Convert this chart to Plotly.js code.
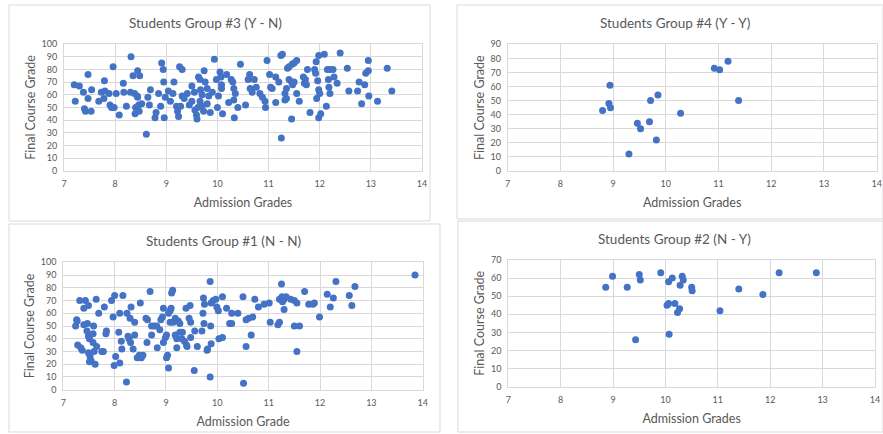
<!DOCTYPE html>
<html>
<head>
<meta charset="utf-8">
<script src="https://cdn.plot.ly/plotly-3.0.1.min.js"></script>
<style>html,body{margin:0;padding:0;background:#fff;}#chart{width:883px;height:434px;}</style>
</head>
<body>
<div id="chart"></div>
<script>
// Group #3 (Y - N)
const g3X = [7.2,7.3,7.22,7.47,7.38,7.47,7.4,7.42,7.54,7.53,7.68,7.73,7.79,7.78,7.8,7.88,7.9,7.93,7.98,7.96,8.02,8.08,8.16,8.17,8.22,8.3,8.31,8.35,8.38,8.43,8.44,8.48,8.4,8.46,8.39,8.47,8.44,8.52,8.61,8.64,8.69,8.67,8.78,8.8,8.85,8.89,8.91,8.94,8.95,8.96,8.98,9.04,9.15,9.13,9.2,9.22,9.24,9.26,9.31,9.28,9.31,9.41,9.5,9.5,9.56,9.59,9.6,9.63,9.66,9.67,9.7,9.7,9.74,9.76,9.8,9.8,9.83,9.86,9.94,9.98,10.0,10.02,9.08,9.35,9.45,9.66,9.73,9.9,9.55,9.62,10.05,10.07,10.08,10.08,10.1,10.18,10.22,10.27,10.3,10.32,10.35,10.32,10.33,10.4,10.45,10.55,10.6,10.63,10.64,10.68,10.72,10.76,10.83,10.88,10.93,10.94,10.97,11.02,11.04,11.07,11.14,11.14,11.2,11.24,11.27,11.25,11.32,11.35,11.32,11.35,11.37,11.4,11.46,11.5,11.55,11.4,11.45,11.47,11.5,11.45,11.55,11.6,11.68,11.72,11.7,11.74,11.76,11.81,11.9,11.92,11.93,11.96,11.98,12.09,11.98,12.0,11.94,11.98,12.02,12.13,12.15,12.2,12.26,12.17,12.18,12.2,12.28,12.34,12.4,12.54,12.57,12.74,12.77,12.82,12.88,12.9,12.95,12.95,12.96,13.13,13.32,13.41];
const g3Y = [68,67,55,76,62,57,49,47,64,47,55,62,71,57,63,61,52,50,50,82,61,44,69,62,51,62,90,75,61,59,79,75,50,52,45,47,58,53,29,58,64,52,42,46,61,51,85,80,70,42,58,63,70,61,51,47,43,82,80,51,59,61,67,55,48,44,41,74,72,64,60,51,79,70,65,53,59,46,88,72,50,59,55,57,52,55,47,62,62,50,78,74,68,65,45,76,54,72,70,65,61,56,42,50,84,52,72,76,65,62,72,66,61,58,55,50,87,76,66,65,74,54,70,91,92,26,61,65,56,57,81,82,84,85,87,72,70,68,70,41,61,55,74,72,69,68,80,46,80,77,86,71,91,92,64,61,57,42,45,51,80,80,80,72,66,61,74,69,93,81,63,63,70,53,68,77,79,87,59,55,81,63];

// Group #4 (Y - Y)
const g4X = [8.8,8.92,8.94,8.95,9.3,9.46,9.52,9.69,9.71,9.82,9.85,10.28,10.92,11.02,11.18,11.38];
const g4Y = [43,48,61,45,12,34,30,35,50,22,54,41,73,72,78,50];

// Group #1 (N - N)
const g1X = [7.24,7.26,7.27,7.28,7.32,7.34,7.37,7.4,7.4,7.43,7.47,7.49,7.46,7.49,7.51,7.49,7.52,7.54,7.51,7.58,7.58,7.59,7.6,7.62,7.64,7.65,7.69,7.75,7.78,7.8,7.83,7.84,7.94,7.97,8.0,7.99,8.02,8.08,8.1,8.1,8.13,8.14,8.16,8.23,8.24,8.26,8.28,8.31,8.32,8.3,8.36,8.39,8.39,8.44,8.48,8.52,8.55,8.5,8.61,8.64,8.63,8.69,8.72,8.72,8.77,8.82,8.83,8.88,8.9,8.93,8.95,8.95,8.99,9.01,9.01,9.03,9.05,9.05,9.08,9.08,9.1,9.11,9.13,9.14,9.18,9.18,9.21,9.21,9.24,9.27,9.27,9.32,9.31,9.36,9.4,9.41,9.39,9.45,9.48,9.47,9.48,9.55,9.56,9.61,9.7,9.72,9.73,9.75,9.74,9.8,9.81,9.86,9.86,9.87,9.88,9.88,9.92,9.97,9.99,10.02,10.03,10.1,10.1,10.18,10.24,10.28,10.28,10.4,10.5,10.56,10.61,10.56,10.51,10.66,10.69,10.73,10.8,10.91,11.01,11.03,11.18,11.21,11.21,11.26,11.3,11.27,11.34,11.25,11.3,11.43,11.5,11.55,11.5,11.6,11.55,11.7,11.78,11.86,11.89,11.99,12.14,12.2,12.26,12.31,12.57,12.62,12.68,13.85];
const g1Y = [50,55,54,35,70,33,31,64,51,70,52,66,46,42,40,29,26,23,22,44,37,50,30,20,71,34,60,30,30,65,44,46,70,57,74,19,26,45,60,21,38,32,74,6,60,42,40,37,65,56,32,43,53,25,27,25,27,68,56,55,37,77,43,50,50,50,33,47,55,57,64,37,41,43,25,27,17,60,62,53,64,76,78,53,56,43,40,33,54,52,45,45,40,38,35,34,64,56,53,66,41,15,46,34,46,60,72,67,52,31,32,85,10,50,36,68,70,71,65,62,40,41,73,64,52,52,60,60,73,55,56,34,5,43,57,71,65,67,68,53,51,53,71,73,71,69,73,83,63,71,70,68,50,50,30,77,67,67,68,57,75,65,72,85,74,66,81,90];

// Group #2 (N - Y)
const g2X = [8.86,8.99,9.27,9.43,9.5,9.52,9.91,10.03,10.06,10.06,10.07,10.13,10.18,10.23,10.27,10.28,10.32,10.34,10.5,10.51,11.04,11.4,11.86,12.17,12.88];
const g2Y = [55,61,55,26,62,59,63,45,46,58,29,60,46,41,43,56,61,59,55,53,42,54,51,63,63];

const titles = ['Students Group #3 (Y - N)','Students Group #4 (Y - Y)','Students Group #1 (N - N)','Students Group #2 (N - Y)'];
const xTitles = ['Admission Grades','Admission Grades','Admission Grade','Admission Grades'];
const yTitle = 'Final Course Grade';
const yMax = [100, 90, 100, 70];

const W = 883, H = 434;
const px = v => v / W;
const py = v => 1 - v / H;

const FONT = 'Lato, "Open Sans", sans-serif';
const GRAY = '#595959';
const GRID = '#d9d9d9';
const BLUE = '#4472C4';

// plot areas in pixels [x0, x1, yTop, yBottom]
const areas = [
  [64, 422, 44, 171],
  [507.7, 876.7, 44.3, 171],
  [63.3, 422.7, 262.3, 389.7],
  [508.3, 875, 260, 386.7]
];
const titlePos = [[205.5, 23], [675, 23], [224, 241], [674.5, 239]];
const panels = [[9, 5, 430, 221], [457, 5, 883, 219], [9, 224, 440, 432], [458, 221, 883, 432]];

const series = [[g3X, g3Y], [g4X, g4Y], [g1X, g1Y], [g2X, g2Y]];

const data = series.map((s, i) => ({
  type: 'scatter', mode: 'markers',
  x: s[0], y: s[1],
  xaxis: i === 0 ? 'x' : 'x' + (i + 1),
  yaxis: i === 0 ? 'y' : 'y' + (i + 1),
  marker: {color: BLUE, size: 7},
  showlegend: false, hoverinfo: 'x+y'
}));

const layout = {
  width: W, height: H,
  margin: {l: 0, r: 0, t: 0, b: 0},
  paper_bgcolor: '#fff', plot_bgcolor: '#fff',
  font: {family: FONT, color: GRAY},
  showlegend: false,
  annotations: [],
  shapes: []
};

areas.forEach((a, i) => {
  const k = i === 0 ? '' : String(i + 1);
  layout['xaxis' + k] = {
    domain: [px(a[0]), px(a[1])],
    anchor: 'y' + k,
    range: [7, 14], dtick: 1, tick0: 7,
    showgrid: true, gridcolor: GRID, gridwidth: 1,
    showline: true, linecolor: GRID, mirror: true,
    zeroline: false, ticks: 'outside', ticklen: 4, tickcolor: 'rgba(0,0,0,0)',
    tickfont: {family: FONT, size: 9, color: GRAY},
    title: {text: xTitles[i], font: {family: FONT, size: 12.5, color: GRAY}, standoff: 10},
    automargin: false, fixedrange: true
  };
  layout['yaxis' + k] = {
    domain: [py(a[3]), py(a[2])],
    anchor: 'x' + k,
    range: [0, yMax[i]], dtick: 10,
    showgrid: true, gridcolor: GRID, gridwidth: 1,
    showline: true, linecolor: GRID, mirror: true,
    zeroline: false, ticks: 'outside', ticklen: 4, tickcolor: 'rgba(0,0,0,0)',
    tickfont: {family: FONT, size: 9, color: GRAY},
    title: {text: yTitle, font: {family: FONT, size: 12.5, color: GRAY}, standoff: 3},
    automargin: false, fixedrange: true
  };
  layout.annotations.push({
    text: titles[i], xref: 'paper', yref: 'paper',
    x: px(titlePos[i][0]), y: py(titlePos[i][1]),
    xanchor: 'center', yanchor: 'middle', showarrow: false,
    font: {family: FONT, size: 13.5, color: GRAY}
  });
  const p = panels[i];
  layout.shapes.push({
    type: 'rect', xref: 'paper', yref: 'paper',
    x0: px(p[0]), x1: px(p[2]), y0: py(p[3]), y1: py(p[1]),
    line: {color: GRID, width: 1}, fillcolor: 'rgba(0,0,0,0)', layer: 'below'
  });
});

Plotly.newPlot('chart', data, layout, {displayModeBar: false, staticPlot: true});
</script>
</body>
</html>
